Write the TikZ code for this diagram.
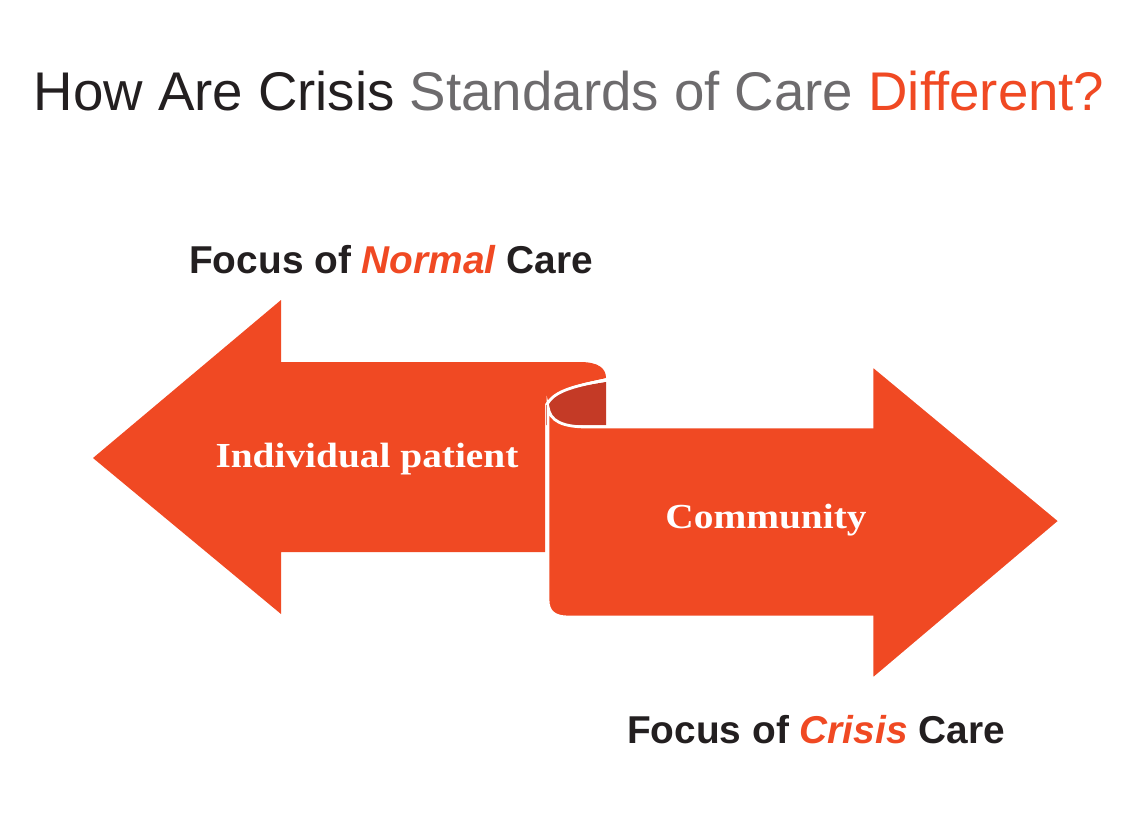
\documentclass[tikz,border=0pt]{standalone}
\usepackage{fontspec}
\setmainfont{Liberation Sans}
\newfontfamily\bandfont{Liberation Serif}
\usepackage{tikz}
\definecolor{crisisorange}{RGB}{240,73,35}
\definecolor{curldark}{RGB}{196,58,38}
\definecolor{titledark}{RGB}{35,31,32}
\definecolor{titlegray}{RGB}{109,107,109}

\begin{document}
\begin{tikzpicture}[x=0.02cm, y=-0.02cm]
			%%%%% START %%%%%
			\useasboundingbox (0, 0) rectangle (1135, 816);
			
			\node[anchor=base, inner sep=0pt, xscale=1.003] (title) at (569, 110) {\fontsize{31}{36}\selectfont\color{titledark}How Are Crisis \color{titlegray}Standards of Care \color{crisisorange}Different?};
			
			\node[anchor=base, inner sep=0pt] (normal) at (391, 273) {\fontsize{22.1}{26}\selectfont\bfseries\color{titledark}Focus of \textcolor{crisisorange}{\itshape Normal} Care};
			
			% inside of the curl
			\fill[curldark] (546, 405) .. controls (552, 390) and (580, 386) .. (606, 382) -- (606, 425) -- (546, 425) -- cycle;
			
			% left band
			\fill[crisisorange] (93, 458) -- (281, 300) -- (281, 362) -- (580, 362) .. controls (598, 362) and (606, 368) .. (606, 378) .. controls (580, 384) and (556, 388) .. (545, 404) -- (545, 552) -- (281, 552) -- (281, 614) -- cycle;
			\draw[white, line width=1.6pt] (606, 380) .. controls (580, 385) and (553, 390) .. (547, 405);
			
			% right band
			\draw[white, line width=1.6pt, fill=crisisorange] (548, 407) .. controls (550, 421) and (562, 427) .. (588, 427) -- (872, 427) -- (872, 365) -- (1060, 521) -- (872, 680) -- (872, 617) -- (568, 617) .. controls (555, 617) and (548, 612) .. (548, 600) -- cycle;
			
			\node[anchor=base, inner sep=0pt, white, xscale=1.12] (individual) at (367, 467) {\bandfont\fontsize{20}{22}\selectfont\bfseries Individual patient};
			\node[anchor=base, inner sep=0pt, white, xscale=1.12] (community) at (766, 528) {\bandfont\fontsize{20}{22}\selectfont\bfseries Community};
			
			\node[anchor=base, inner sep=0pt] (crisis) at (816, 743) {\fontsize{22.1}{26}\selectfont\bfseries\color{titledark}Focus of \textcolor{crisisorange}{\itshape Crisis} Care};
			%%%%% END %%%%%
\end{tikzpicture}
\end{document}
